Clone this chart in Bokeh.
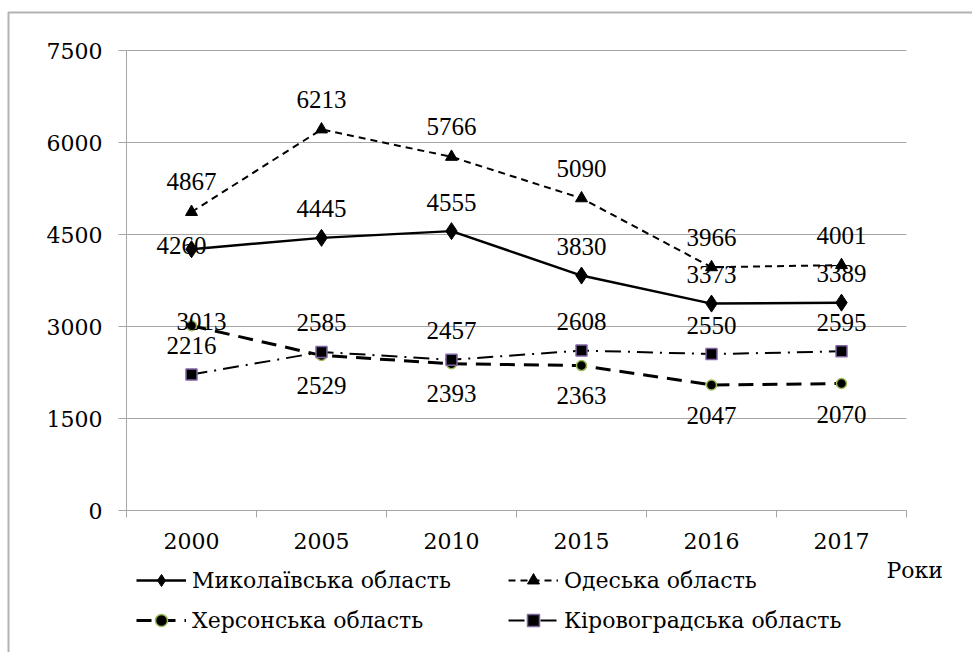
from bokeh.plotting import figure
from bokeh.models import (FixedTicker, Legend, LegendItem, Label, LabelSet, BoxAnnotation, ColumnDataSource)
from bokeh.embed import file_html
from bokeh.resources import INLINE

years = ["2000", "2005", "2010", "2015", "2016", "2017"]
mykolaiv = [4260, 4445, 4555, 3830, 3373, 3389]
odesa = [4867, 6213, 5766, 5090, 3966, 4001]
kherson = [3013, 2529, 2393, 2363, 2047, 2070]
kirovohrad = [2216, 2585, 2457, 2608, 2550, 2595]
names = ["Миколаївська область", "Одеська область", "Херсонська область", "Кіровоградська область"]
y_ticks = [0, 1500, 3000, 4500, 6000, 7500]
x_title = "Роки"

FONT = "DejaVu Serif"
FS = "22px"
FS_LBL = "25px"
W, H = 972, 652

PX0, PX_PER_CAT = 126, 130
PY0, PY_PER_UNIT = 510, 92 / 1500

def xd(px):
    return (px - PX0) / PX_PER_CAT

def yd(py):
    return (PY0 - py) / PY_PER_UNIT

n = len(years)
xs = [i + 0.5 for i in range(n)]

p = figure(width=W, height=H, output_backend="svg", toolbar_location=None,
           x_range=(xd(0), xd(W)), y_range=(yd(H), yd(0)), min_border=0)
p.outline_line_color = None

GRAY = "#a6a6a6"
p.yaxis.fixed_location = 0
p.yaxis.bounds = (y_ticks[0], y_ticks[-1])
p.yaxis.ticker = FixedTicker(ticks=y_ticks)
p.yaxis.axis_line_color = GRAY
p.yaxis.major_tick_line_color = GRAY
p.yaxis.major_tick_out = 8
p.yaxis.major_tick_in = 0
p.yaxis.minor_tick_line_color = None
p.yaxis.major_label_text_font = FONT
p.yaxis.major_label_text_font_size = FS
p.yaxis.major_label_text_color = "black"
p.yaxis.major_label_standoff = 16

p.xaxis.fixed_location = 0
p.xaxis.bounds = (0, n)
p.xaxis.ticker = FixedTicker(ticks=xs, minor_ticks=list(range(n + 1)))
p.xaxis.major_label_overrides = {x: y for x, y in zip(xs, years)}
p.xaxis.axis_line_color = GRAY
p.xaxis.major_tick_line_color = None
p.xaxis.major_tick_out = 0
p.xaxis.major_tick_in = 0
p.xaxis.minor_tick_line_color = GRAY
p.xaxis.minor_tick_out = 7
p.xaxis.minor_tick_in = 0
p.xaxis.major_label_text_font = FONT
p.xaxis.major_label_text_font_size = FS
p.xaxis.major_label_text_color = "black"
p.xaxis.major_label_standoff = 15

p.xgrid.grid_line_color = None
p.ygrid.ticker = FixedTicker(ticks=y_ticks)
p.ygrid.grid_line_color = GRAY
p.ygrid.cross_bounds = (0, n)

STY = [
    dict(line=dict(line_width=2.5), mk=dict(marker="diamond", size=17, fill_color="black", line_color="black")),
    dict(line=dict(line_width=2, line_dash="7 5"), mk=dict(marker="triangle", size=12, fill_color="black", line_color="black")),
    dict(line=dict(line_width=3, line_dash="15 9"), mk=dict(marker="circle", size=10, fill_color="black", line_color="#9bbb59", line_width=1.5)),
    dict(line=dict(line_width=2, line_dash="16 7 2 7"), mk=dict(marker="square", size=11, fill_color="black", line_color="#8064a2", line_width=1.5)),
]
series = [mykolaiv, odesa, kherson, kirovohrad]
rends = []
for vals, st in zip(series, STY):
    rl = p.line(xs, vals, line_color="black", **st["line"])
    rm = p.scatter(xs, vals, **st["mk"])
    rends.append([rl, rm])

def labels(vals, dy, dx=None):
    dx = dx or [0] * len(vals)
    src = ColumnDataSource(dict(x=xs, y=vals, t=[str(v) for v in vals], dx=dx, dy=[-d for d in dy]))
    p.add_layout(LabelSet(x="x", y="y", text="t", source=src, x_offset="dx", y_offset="dy",
                          text_align="center", text_baseline="middle",
                          text_font=FONT, text_font_size=FS_LBL, text_color="black"))

labels(mykolaiv, [-4, -29, -29, -29, -29, -29], [-10, 0, 0, 0, 0, 0])
labels(odesa, [-30] * 6)
labels(kherson, [-4, 30, 30, 30, 31, 31], [10, 0, 0, 0, 0, 0])
labels(kirovohrad, [-29] * 6)

leg_common = dict(label_text_font=FONT, label_text_font_size=FS, label_text_color="black",
                  glyph_width=50, glyph_height=30, label_height=30, label_standoff=6,
                  spacing=10, padding=0, margin=0, border_line_color=None,
                  background_fill_alpha=0)
leg_bottom_px = 635
p.add_layout(Legend(items=[LegendItem(label=names[0], renderers=rends[0]),
                           LegendItem(label=names[2], renderers=rends[2])],
                    location=(136, H - leg_bottom_px), **leg_common))
p.add_layout(Legend(items=[LegendItem(label=names[1], renderers=rends[1]),
                           LegendItem(label=names[3], renderers=rends[3])],
                    location=(508, H - leg_bottom_px), **leg_common))

p.add_layout(Label(x=xd(886), y=yd(570), text=x_title,
                   text_font=FONT, text_font_size=FS, text_color="black",
                   text_align="left", text_baseline="middle"))

p.add_layout(BoxAnnotation(left=xd(8), top=yd(12), right=xd(W + 20), bottom=yd(H + 20),
                           fill_alpha=0, line_color="black", line_width=2))

open("out.html", "w").write(file_html(p, INLINE))
